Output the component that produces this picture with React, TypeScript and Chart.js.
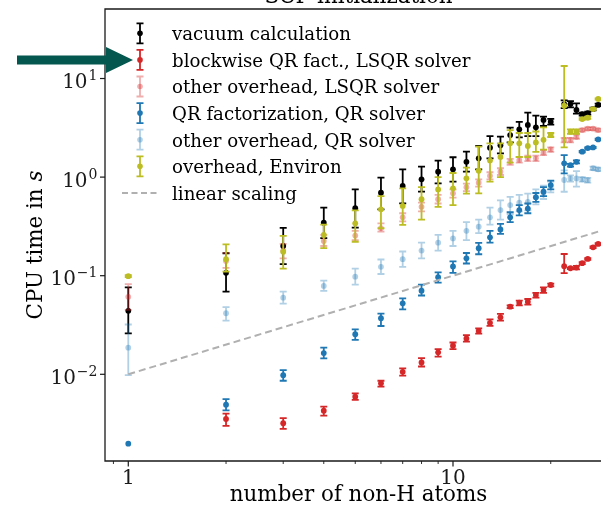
import { useEffect, useRef } from 'react';
import { Chart, registerables } from 'chart.js';

Chart.register(...registerables);

// Number of non-H atoms per molecule (x positions)
const atoms = [1, 2, 3, 4, 5, 6, 7, 8, 9, 10, 11, 12, 13, 14, 15, 16, 17, 18, 19, 20, 22, 23, 24, 25, 26, 27, 28];

// vacuum calculation
const vacuumTime = [0.044, 0.107, 0.2, 0.345, 0.483, 0.695, 0.813, 0.95, 1.135, 1.2, 1.43, 1.55, 1.99, 2.1, 2.67, 3.05, 3.38, 3.2, 3.8, 3.65, 5.5, 5.5, 4.8, 4.36, 4.45, 4.9, 5.4];
const vacuumLow = [0.026, 0.069, 0.131, 0.24, 0.307, 0.471, 0.542, 0.711, 0.865, 0.9, 1.135, 1.2, 1.55, 1.74, 2.25, 2.53, 2.6, 2.6, 3.3, 3.4, 5.0, 5.1, 4.4, 4.2, 4.3, 4.75, 5.25];
const vacuumHigh = [0.076, 0.169, 0.306, 0.49, 0.751, 0.99, 1.2, 1.28, 1.47, 1.59, 1.81, 2.07, 2.61, 2.57, 3.17, 3.63, 4.5, 4.2, 4.1, 3.9, 6.0, 5.9, 5.6, 4.5, 4.6, 5.05, 5.55];

// blockwise QR fact., LSQR solver
const blockQrTime = [null, 0.00352, 0.00319, 0.00427, 0.00593, 0.0081, 0.0106, 0.0132, 0.0167, 0.0195, 0.0231, 0.0275, 0.0333, 0.0378, 0.0485, 0.0532, 0.0545, 0.0637, 0.0716, 0.0805, 0.125, 0.119, 0.121, 0.134, 0.148, 0.194, 0.21];
const blockQrLow = [null, 0.003, 0.0028, 0.0038, 0.0055, 0.0075, 0.0097, 0.012, 0.0151, 0.018, 0.0214, 0.0258, 0.031, 0.035, 0.047, 0.05, 0.051, 0.06, 0.067, 0.078, 0.106, 0.117, 0.116, 0.131, 0.145, 0.19, 0.206];
const blockQrHigh = [null, 0.004, 0.0036, 0.0047, 0.0064, 0.0086, 0.0115, 0.0146, 0.018, 0.021, 0.025, 0.0292, 0.036, 0.041, 0.05, 0.056, 0.058, 0.067, 0.076, 0.083, 0.166, 0.121, 0.126, 0.137, 0.151, 0.198, 0.214];

// other overhead, LSQR solver
const lsqrOtherTime = [0.061, 0.141, 0.18, 0.225, 0.255, 0.303, 0.391, 0.5, 0.596, 0.685, 0.79, 0.877, 1.03, 1.135, 1.43, 1.49, 1.55, 1.55, 1.77, 1.91, 2.38, 2.38, 2.56, 3.0, 3.1, 3.1, 3.0];
const lsqrOtherLow = [0.045, 0.12, 0.15, 0.2, 0.23, 0.28, 0.355, 0.45, 0.54, 0.62, 0.72, 0.8, 0.95, 1.05, 1.33, 1.4, 1.45, 1.45, 1.67, 1.8, 2.25, 2.25, 2.45, 2.9, 3.0, 3.0, 2.9];
const lsqrOtherHigh = [0.082, 0.17, 0.21, 0.26, 0.285, 0.34, 0.43, 0.55, 0.66, 0.75, 0.86, 0.95, 1.12, 1.23, 1.53, 1.6, 1.65, 1.65, 1.88, 2.0, 2.5, 2.5, 2.7, 3.1, 3.2, 3.2, 3.1];

// QR factorization, QR solver
const qrFactTime = [0.00198, 0.00492, 0.0098, 0.0164, 0.0255, 0.037, 0.0525, 0.0705, 0.0964, 0.124, 0.15, 0.19, 0.245, 0.295, 0.391, 0.463, 0.479, 0.623, 0.711, 0.83, 1.38, 1.32, 1.43, 1.81, 1.97, 2.0, 2.41];
const qrFactLow = [0.00198, 0.0043, 0.0086, 0.0145, 0.0223, 0.0309, 0.0456, 0.063, 0.085, 0.107, 0.133, 0.165, 0.216, 0.265, 0.35, 0.41, 0.43, 0.56, 0.64, 0.75, 1.09, 1.28, 1.38, 1.78, 1.94, 1.97, 2.37];
const qrFactHigh = [0.00198, 0.0056, 0.011, 0.0186, 0.0286, 0.0413, 0.059, 0.081, 0.108, 0.14, 0.17, 0.215, 0.285, 0.335, 0.44, 0.52, 0.54, 0.69, 0.79, 0.92, 1.67, 1.36, 1.48, 1.84, 2.0, 2.03, 2.45];

// other overhead, QR solver
const qrOtherTime = [0.0186, 0.0416, 0.0598, 0.0787, 0.0977, 0.123, 0.147, 0.18, 0.216, 0.239, 0.285, 0.314, 0.391, 0.463, 0.52, 0.55, 0.56, 0.63, 0.7, 0.8, 0.935, 0.97, 0.97, 0.95, 0.93, 1.23, 1.2];
const qrOtherLow = [0.0098, 0.035, 0.052, 0.07, 0.081, 0.104, 0.123, 0.15, 0.18, 0.2, 0.23, 0.27, 0.33, 0.37, 0.42, 0.45, 0.46, 0.53, 0.6, 0.7, 0.71, 0.9, 0.8, 0.9, 0.88, 1.18, 1.15];
const qrOtherHigh = [0.032, 0.048, 0.069, 0.089, 0.118, 0.146, 0.176, 0.216, 0.26, 0.285, 0.35, 0.37, 0.49, 0.58, 0.63, 0.66, 0.68, 0.75, 0.82, 0.9, 1.17, 1.04, 1.15, 1.0, 0.98, 1.28, 1.25];

// overhead, Environ
const environTime = [0.099, 0.147, 0.175, 0.259, 0.34, 0.471, 0.509, 0.596, 0.75, 0.77, 0.973, 1.16, 1.47, 1.6, 2.2, 2.2, 2.07, 2.25, 2.39, 2.67, 5.3, 2.89, 2.89, 3.88, 4.0, 4.9, 6.2];
const environLow = [0.097, 0.11, 0.118, 0.19, 0.221, 0.303, 0.327, 0.37, 0.5, 0.52, 0.68, 0.685, 0.9, 1.0, 1.4, 1.6, 1.6, 1.8, 1.9, 2.55, 2.0, 2.75, 2.75, 3.8, 3.9, 4.8, 6.1];
const environHigh = [0.101, 0.208, 0.254, 0.33, 0.46, 0.64, 0.77, 0.79, 1.0, 1.1, 1.25, 2.04, 2.2, 2.2, 3.0, 2.8, 2.8, 2.9, 3.2, 2.8, 13.4, 3.05, 3.05, 3.96, 4.1, 5.0, 6.3];

// linear scaling reference
const linearX = [1, 30];
const linearY = [0.01, 0.3];

const xMajorTicks = [1, 10];
const xMinorTicks = [0.9, 2, 3, 4, 5, 6, 7, 8, 9, 20, 30];
const yMajorTicks = [0.01, 0.1, 1, 10];
const yTickExponents = ['\u22122', '\u22121', '0', '1'];

const X_MIN = 0.8478;
const X_MAX = 30.88;
const Y_MIN = 0.00132;
const Y_MAX = 50.7;

const SERIF = '"DejaVu Serif", "Liberation Serif", serif';
const LABEL_FONT = `21.4px ${SERIF}`;
const LABEL_FONT_IT = `italic 21.4px ${SERIF}`;

const seriesDefs = [
  { label: 'vacuum calculation', color: '#000000', values: vacuumTime, low: vacuumLow, high: vacuumHigh },
  { label: 'blockwise QR fact., LSQR solver', color: '#d62728', values: blockQrTime, low: blockQrLow, high: blockQrHigh },
  { label: 'other overhead, LSQR solver', color: 'rgba(214,39,40,0.38)', values: lsqrOtherTime, low: lsqrOtherLow, high: lsqrOtherHigh },
  { label: 'QR factorization, QR solver', color: '#1f77b4', values: qrFactTime, low: qrFactLow, high: qrFactHigh },
  { label: 'other overhead, QR solver', color: 'rgba(31,119,180,0.35)', values: qrOtherTime, low: qrOtherLow, high: qrOtherHigh },
  { label: 'overhead, Environ', color: '#bcbd22', values: environTime, low: environLow, high: environHigh },
];

const CAP = 3.5;
const ERR_W = 1.8;

// Error bars are drawn just before each dataset's points, so stacking matches the points.
const errorBarPlugin = {
  id: 'errorBars',
  beforeDatasetDraw(chart: any, args: any) {
    const ds = chart.data.datasets[args.index];
    if (!ds.errLow) return;
    const { ctx } = chart;
    const xs = chart.scales.x;
    const ys = chart.scales.y;
    ctx.save();
    ctx.strokeStyle = ds.errColor;
    ctx.lineWidth = ERR_W;
    ds.data.forEach((p: any, i: number) => {
      const lo = ds.errLow[i];
      const hi = ds.errHigh[i];
      if (p.y == null || lo == null || hi == null || hi <= lo) return;
      const px = xs.getPixelForValue(p.x);
      const yl = ys.getPixelForValue(lo);
      const yh = ys.getPixelForValue(hi);
      ctx.beginPath();
      ctx.moveTo(px, yl);
      ctx.lineTo(px, yh);
      ctx.moveTo(px - CAP, yl);
      ctx.lineTo(px + CAP, yl);
      ctx.moveTo(px - CAP, yh);
      ctx.lineTo(px + CAP, yh);
      ctx.stroke();
    });
    ctx.restore();
  },
};

function drawPow(ctx: CanvasRenderingContext2D, exp: string, xRight: number, y: number) {
  ctx.font = `20px ${SERIF}`;
  const wb = ctx.measureText('10').width;
  ctx.font = `14px ${SERIF}`;
  const we = ctx.measureText(exp).width;
  const x0 = xRight - wb - we - 1;
  ctx.textAlign = 'left';
  ctx.textBaseline = 'alphabetic';
  ctx.font = `20px ${SERIF}`;
  ctx.fillText('10', x0, y + 9.5);
  ctx.font = `14px ${SERIF}`;
  ctx.fillText(exp, x0 + wb + 1, y + 1.5);
}

// Frame, ticks, labels, title, legend and the pointer arrow.
const framePlugin = {
  id: 'frame',
  afterDraw(chart: any) {
    const { ctx, chartArea: a } = chart;
    const xs = chart.scales.x;
    const ys = chart.scales.y;
    ctx.save();
    ctx.strokeStyle = '#1a1a1a';
    ctx.fillStyle = '#1a1a1a';
    ctx.lineWidth = 1.3;
    ctx.beginPath();
    ctx.moveTo(a.left, a.top);
    ctx.lineTo(a.right, a.top);
    ctx.lineTo(a.right, a.bottom);
    ctx.lineTo(a.left, a.bottom);
    ctx.closePath();
    ctx.stroke();

    // x ticks
    ctx.lineWidth = 1.2;
    xMajorTicks.forEach((v) => {
      const px = xs.getPixelForValue(v);
      ctx.beginPath();
      ctx.moveTo(px, a.bottom);
      ctx.lineTo(px, a.bottom + 5.5);
      ctx.stroke();
    });
    ctx.lineWidth = 0.9;
    xMinorTicks.forEach((v) => {
      const px = xs.getPixelForValue(v);
      ctx.beginPath();
      ctx.moveTo(px, a.bottom);
      ctx.lineTo(px, a.bottom + 3);
      ctx.stroke();
    });
    ctx.font = `20px ${SERIF}`;
    ctx.textAlign = 'center';
    ctx.textBaseline = 'alphabetic';
    xMajorTicks.forEach((v) => {
      ctx.fillText(String(v), xs.getPixelForValue(v), 484);
    });

    // y ticks
    ctx.lineWidth = 1.2;
    yMajorTicks.forEach((v, i) => {
      const py = ys.getPixelForValue(v);
      ctx.beginPath();
      ctx.moveTo(a.left, py);
      ctx.lineTo(a.left - 5, py);
      ctx.stroke();
      drawPow(ctx, yTickExponents[i], a.left - 7.5, py);
    });

    // axis titles
    ctx.fillStyle = '#000';
    ctx.font = LABEL_FONT;
    ctx.textAlign = 'center';
    ctx.fillText('number of non-H atoms', (a.left + a.right) / 2, 501);

    ctx.save();
    ctx.translate(42, 245);
    ctx.rotate(-Math.PI / 2);
    ctx.font = LABEL_FONT;
    const w1 = ctx.measureText('CPU time in ').width;
    ctx.font = LABEL_FONT_IT;
    const w2 = ctx.measureText('s').width;
    ctx.textAlign = 'left';
    ctx.font = LABEL_FONT;
    ctx.fillText('CPU time in ', -(w1 + w2) / 2, 0);
    ctx.font = LABEL_FONT_IT;
    ctx.fillText('s', -(w1 + w2) / 2 + w1, 0);
    ctx.restore();

    // title (sits above the frame)
    ctx.font = LABEL_FONT;
    ctx.textAlign = 'center';
    ctx.fillText('SCF initialization', (a.left + a.right) / 2, 3.3);

    // legend
    const rowY0 = 33.3;
    const rowH = 26.6;
    const mx = 140;
    seriesDefs.forEach((s, i) => {
      const y = rowY0 + i * rowH;
      ctx.strokeStyle = s.color;
      ctx.fillStyle = s.color;
      ctx.lineWidth = ERR_W;
      ctx.beginPath();
      ctx.moveTo(mx, y - 10);
      ctx.lineTo(mx, y + 10);
      ctx.moveTo(mx - CAP, y - 10);
      ctx.lineTo(mx + CAP, y - 10);
      ctx.moveTo(mx - CAP, y + 10);
      ctx.lineTo(mx + CAP, y + 10);
      ctx.stroke();
      ctx.beginPath();
      ctx.arc(mx, y, 2.8, 0, Math.PI * 2);
      ctx.fill();
    });
    const ly = rowY0 + 6 * rowH;
    ctx.strokeStyle = '#b0b0b0';
    ctx.lineWidth = 2;
    ctx.setLineDash([6, 3.5]);
    ctx.beginPath();
    ctx.moveTo(122, ly);
    ctx.lineTo(157, ly);
    ctx.stroke();
    ctx.setLineDash([]);
    ctx.fillStyle = '#000';
    ctx.font = `18.2px ${SERIF}`;
    ctx.textAlign = 'left';
    ctx.textBaseline = 'alphabetic';
    [...seriesDefs.map((s) => s.label), 'linear scaling'].forEach((t, i) => {
      ctx.fillText(t, 172, rowY0 + i * rowH + 6.8);
    });

    // pointer arrow
    ctx.fillStyle = '#04574f';
    ctx.beginPath();
    ctx.moveTo(17, 55.5);
    ctx.lineTo(106, 55.5);
    ctx.lineTo(106, 47);
    ctx.lineTo(133, 60);
    ctx.lineTo(106, 73);
    ctx.lineTo(106, 64.5);
    ctx.lineTo(17, 64.5);
    ctx.closePath();
    ctx.fill();
    ctx.restore();
  },
};

export default function App() {
  const canvasRef = useRef<HTMLCanvasElement | null>(null);

  useEffect(() => {
    const canvas = canvasRef.current;
    if (!canvas) return;
    const datasets: any[] = seriesDefs.map((s, i) => ({
      label: s.label,
      data: atoms.map((x, j) => ({ x, y: s.values[j] })),
      errLow: s.low,
      errHigh: s.high,
      errColor: s.color,
      pointRadius: 2.9,
      pointHoverRadius: 2.9,
      pointBackgroundColor: s.color,
      pointBorderWidth: 0,
      showLine: false,
      order: 10 - i,
    }));
    datasets.push({
      label: 'linear scaling',
      data: linearX.map((x, j) => ({ x, y: linearY[j] })),
      showLine: true,
      borderColor: '#b0b0b0',
      borderWidth: 2,
      borderDash: [7, 4],
      pointRadius: 0,
      order: 1,
    });

    const chart = new Chart(canvas, {
      type: 'scatter',
      data: { datasets },
      options: {
        responsive: false,
        animation: false,
        devicePixelRatio: 1,
        layout: { padding: { left: 0, right: 3, top: 9, bottom: 0 } },
        plugins: {
          legend: { display: false },
          tooltip: { enabled: false },
          title: { display: false },
        },
        scales: {
          x: {
            type: 'logarithmic',
            min: X_MIN,
            max: X_MAX,
            bounds: 'data',
            grid: { display: false },
            border: { display: false },
            ticks: { display: false },
            afterFit: (s: any) => {
              s.height = 46;
            },
          },
          y: {
            type: 'logarithmic',
            min: Y_MIN,
            max: Y_MAX,
            bounds: 'data',
            grid: { display: false },
            border: { display: false },
            ticks: { display: false },
            afterFit: (s: any) => {
              s.width = 105;
            },
          },
        },
      } as any,
      plugins: [errorBarPlugin, framePlugin],
    });
    return () => chart.destroy();
  }, []);

  return (
    <div style={{ position: 'fixed', left: 0, top: 0, width: 601, height: 507, overflow: 'hidden', background: '#fff' }}>
      <canvas ref={canvasRef} width={615} height={507} style={{ display: 'block' }} />
    </div>
  );
}
